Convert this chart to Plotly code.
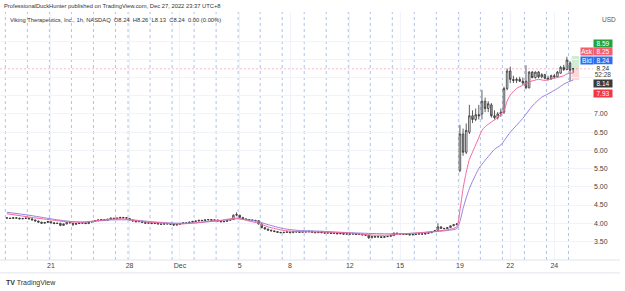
import plotly.graph_objects as go
import pandas as pd

# ---------------- data ----------------
session_days = ["2022-11-17", "2022-11-18", "2022-11-21", "2022-11-22", "2022-11-23", "2022-11-25",
                "2022-11-28", "2022-11-29", "2022-11-30", "2022-12-01", "2022-12-02",
                "2022-12-05", "2022-12-06", "2022-12-07", "2022-12-08", "2022-12-09",
                "2022-12-12", "2022-12-13", "2022-12-14", "2022-12-15", "2022-12-16",
                "2022-12-19", "2022-12-20", "2022-12-21", "2022-12-22", "2022-12-23", "2022-12-27"]
bars_per_session = [7, 7, 7, 7, 7, 4, 7, 7, 7, 7, 7, 7, 7, 7, 7, 7, 7, 7, 7, 7, 7, 7, 7, 7, 7, 7, 2]

opens = [
    4.15, 4.14, 4.13, 4.15, 4.14, 4.12, 4.13,
    4.14, 4.12, 4.09, 4.06, 4.03, 4.00, 4.02,
    4.04, 4.01, 3.99, 4.00, 3.94, 3.98, 4.02,
    4.00, 3.97, 3.99, 4.00, 4.01, 3.99, 4.03,
    4.05, 4.07, 4.09, 4.10, 4.08, 4.11, 4.14,
    4.12, 4.14, 4.16, 4.15,
    4.13, 4.09, 4.06, 4.04, 4.05, 4.02, 4.00,
    4.01, 3.99, 4.00, 3.98, 3.97, 3.99, 3.98,
    3.97, 3.95, 3.97, 3.99, 4.01, 4.00, 4.03,
    4.05, 4.06, 4.08, 4.07, 4.09, 4.10, 4.08,
    4.09, 4.06, 4.04, 4.05, 4.08, 4.10, 4.22,
    4.22, 4.16, 4.12, 4.10, 4.09, 4.08, 4.07,
    3.98, 3.88, 3.84, 3.81, 3.79, 3.77, 3.75,
    3.74, 3.75, 3.76, 3.74, 3.77, 3.76, 3.75,
    3.77, 3.76, 3.78, 3.75, 3.74, 3.76, 3.74,
    3.73, 3.74, 3.72, 3.73, 3.71, 3.72, 3.70,
    3.71, 3.70, 3.71, 3.69, 3.70, 3.68, 3.67,
    3.60, 3.64, 3.62, 3.63, 3.61, 3.63, 3.64,
    3.66, 3.73, 3.71, 3.70, 3.69, 3.70, 3.68,
    3.69, 3.70, 3.71, 3.70, 3.72, 3.74, 3.77,
    3.80, 3.90, 3.86, 3.85, 3.88, 3.93, 3.96,
    5.45, 6.45, 5.95, 6.50, 6.95, 6.85, 6.98,
    7.00, 7.35, 7.15, 7.25, 6.95, 6.90, 7.00,
    7.05, 7.70, 8.18, 7.95, 7.92, 7.95, 7.90,
    7.90, 7.72, 8.15, 8.00, 8.15, 8.02, 8.08,
    7.98, 7.96, 8.05, 8.02, 8.12, 8.28, 8.22,
    8.40, 8.24]
highs = [
    4.16, 4.15, 4.16, 4.16, 4.15, 4.14, 4.15,
    4.15, 4.13, 4.10, 4.07, 4.04, 4.03, 4.06,
    4.05, 4.03, 4.01, 4.01, 3.99, 4.03, 4.03,
    4.01, 4.00, 4.01, 4.02, 4.02, 4.04, 4.06,
    4.08, 4.10, 4.11, 4.11, 4.12, 4.15, 4.15,
    4.15, 4.17, 4.17, 4.16,
    4.14, 4.10, 4.07, 4.06, 4.06, 4.03, 4.02,
    4.02, 4.01, 4.01, 3.99, 4.00, 4.00, 3.99,
    3.98, 3.98, 4.00, 4.02, 4.02, 4.04, 4.06,
    4.07, 4.09, 4.09, 4.10, 4.11, 4.11, 4.10,
    4.10, 4.07, 4.06, 4.09, 4.11, 4.24, 4.30,
    4.23, 4.17, 4.13, 4.11, 4.10, 4.09, 4.08,
    3.99, 3.89, 3.85, 3.82, 3.80, 3.78, 3.76,
    3.76, 3.77, 3.77, 3.78, 3.78, 3.77, 3.78,
    3.78, 3.79, 3.79, 3.76, 3.77, 3.77, 3.75,
    3.75, 3.75, 3.74, 3.74, 3.73, 3.73, 3.72,
    3.72, 3.72, 3.72, 3.71, 3.71, 3.69, 3.68,
    3.65, 3.65, 3.64, 3.64, 3.64, 3.65, 3.67,
    3.74, 3.74, 3.72, 3.71, 3.71, 3.71, 3.70,
    3.71, 3.72, 3.72, 3.73, 3.75, 3.78, 3.81,
    4.00, 3.91, 3.87, 3.89, 3.94, 3.97, 4.00,
    6.70, 6.60, 6.74, 7.25, 7.10, 7.15, 7.25,
    7.66, 7.45, 7.35, 7.30, 7.10, 7.05, 7.15,
    7.75, 8.25, 8.30, 8.05, 8.00, 8.02, 8.00,
    8.34, 8.18, 8.18, 8.17, 8.18, 8.12, 8.10,
    8.05, 8.08, 8.10, 8.18, 8.32, 8.35, 8.57,
    8.45, 8.26]
lows = [
    4.13, 4.12, 4.12, 4.13, 4.11, 4.11, 4.12,
    4.11, 4.08, 4.05, 4.02, 3.99, 3.99, 4.01,
    4.00, 3.98, 3.98, 3.92, 3.93, 3.97, 4.00,
    3.92, 3.96, 3.98, 3.99, 3.98, 3.98, 4.02,
    4.04, 4.06, 4.08, 4.07, 4.07, 4.10, 4.11,
    4.11, 4.13, 4.14, 4.13,
    4.08, 4.05, 4.03, 4.03, 4.01, 3.99, 3.99,
    3.98, 3.98, 3.97, 3.96, 3.96, 3.97, 3.96,
    3.93, 3.94, 3.96, 3.98, 3.99, 3.99, 4.02,
    4.04, 4.05, 4.06, 4.06, 4.08, 4.07, 4.07,
    4.05, 4.03, 4.03, 4.04, 4.07, 4.09, 4.19,
    4.15, 4.11, 4.09, 4.08, 4.07, 4.06, 3.96,
    3.86, 3.83, 3.80, 3.78, 3.76, 3.74, 3.73,
    3.73, 3.74, 3.73, 3.73, 3.75, 3.74, 3.74,
    3.75, 3.75, 3.74, 3.73, 3.73, 3.73, 3.72,
    3.72, 3.71, 3.71, 3.70, 3.70, 3.69, 3.69,
    3.69, 3.69, 3.68, 3.68, 3.67, 3.66, 3.57,
    3.59, 3.61, 3.61, 3.60, 3.60, 3.62, 3.63,
    3.65, 3.70, 3.69, 3.68, 3.68, 3.67, 3.67,
    3.68, 3.69, 3.69, 3.69, 3.71, 3.73, 3.76,
    3.79, 3.85, 3.84, 3.84, 3.87, 3.92, 3.95,
    5.40, 5.85, 5.90, 6.45, 6.75, 6.80, 6.85,
    6.85, 7.05, 7.05, 6.90, 6.85, 6.85, 6.92,
    7.00, 7.65, 7.85, 7.85, 7.85, 7.88, 7.80,
    7.68, 7.70, 7.98, 7.97, 7.98, 7.98, 7.95,
    7.92, 7.94, 7.98, 8.00, 8.10, 8.18, 8.20,
    7.90, 8.13]
closes = [
    4.14, 4.13, 4.15, 4.14, 4.12, 4.13, 4.14,
    4.12, 4.09, 4.06, 4.03, 4.00, 4.02, 4.05,
    4.01, 3.99, 4.00, 3.94, 3.98, 4.02, 4.01,
    3.97, 3.99, 4.00, 4.01, 3.99, 4.03, 4.05,
    4.07, 4.09, 4.10, 4.08, 4.11, 4.14, 4.12,
    4.14, 4.16, 4.15, 4.14,
    4.09, 4.06, 4.04, 4.05, 4.02, 4.00, 4.01,
    3.99, 4.00, 3.98, 3.97, 3.99, 3.98, 3.97,
    3.95, 3.97, 3.99, 4.01, 4.00, 4.03, 4.05,
    4.06, 4.08, 4.07, 4.09, 4.10, 4.08, 4.09,
    4.06, 4.04, 4.05, 4.08, 4.10, 4.22, 4.24,
    4.16, 4.12, 4.10, 4.09, 4.08, 4.07, 3.98,
    3.88, 3.84, 3.81, 3.79, 3.77, 3.75, 3.74,
    3.75, 3.76, 3.74, 3.77, 3.76, 3.75, 3.77,
    3.76, 3.78, 3.75, 3.74, 3.76, 3.74, 3.73,
    3.74, 3.72, 3.73, 3.71, 3.72, 3.70, 3.71,
    3.70, 3.71, 3.69, 3.70, 3.68, 3.67, 3.60,
    3.64, 3.62, 3.63, 3.61, 3.63, 3.64, 3.66,
    3.73, 3.71, 3.70, 3.69, 3.70, 3.68, 3.69,
    3.70, 3.71, 3.70, 3.72, 3.74, 3.77, 3.80,
    3.90, 3.86, 3.85, 3.88, 3.93, 3.96, 3.98,
    6.45, 5.95, 6.55, 6.95, 6.85, 6.98, 6.95,
    7.35, 7.15, 7.28, 6.95, 6.90, 7.00, 7.05,
    7.70, 8.18, 7.95, 7.92, 7.95, 7.90, 7.85,
    7.72, 8.15, 8.00, 8.15, 8.02, 8.08, 7.98,
    7.96, 8.05, 8.02, 8.15, 8.28, 8.22, 8.48,
    8.20, 8.24]

# moving averages (bar index -> value)
ma_fast_bars = [0, 7, 14, 19, 24, 30, 33, 37, 40, 45, 51, 55, 59, 64, 68, 73, 77, 80, 83, 88, 93, 100,
                104, 109, 115, 120, 125, 130, 135, 140, 143, 144, 145, 146, 147, 148, 149, 150, 151,
                152, 154, 156, 158, 159, 160, 162, 164, 166, 169, 171, 174, 177, 178, 179, 180]
ma_fast_vals = [4.26, 4.17, 4.09, 4.04, 4.03, 4.08, 4.11, 4.12, 4.08, 4.03, 4.00, 3.98, 4.00, 4.05,
                4.08, 4.14, 4.06, 4.00, 3.90, 3.80, 3.77, 3.76, 3.75, 3.73, 3.68, 3.67, 3.70, 3.73,
                3.77, 3.82, 3.90, 4.35, 4.95, 5.40, 5.75, 5.95, 6.15, 6.35, 6.55, 6.65, 6.78, 6.90,
                7.10, 7.35, 7.52, 7.70, 7.79, 7.88, 7.95, 7.92, 7.98, 8.05, 8.10, 8.12, 8.12]
ma_slow_bars = [0, 7, 14, 19, 24, 30, 33, 40, 45, 51, 55, 60, 64, 68, 73, 77, 80, 83, 88, 93, 100,
                104, 109, 115, 120, 125, 130, 135, 140, 143, 144, 145, 146, 147, 148, 149, 150, 151,
                153, 155, 157, 160, 164, 167, 170, 172, 175, 177, 179, 180]
ma_slow_vals = [4.30, 4.22, 4.12, 4.06, 4.03, 4.07, 4.09, 4.09, 4.05, 4.01, 4.00, 4.01, 4.04, 4.07,
                4.12, 4.09, 4.04, 3.96, 3.85, 3.80, 3.78, 3.76, 3.74, 3.72, 3.71, 3.71, 3.73, 3.76,
                3.80, 3.85, 4.05, 4.40, 4.70, 4.95, 5.15, 5.33, 5.50, 5.62, 5.83, 6.03, 6.15, 6.50,
                6.88, 7.22, 7.46, 7.55, 7.70, 7.82, 7.90, 7.93]

tick_dates = ["2022-11-21", "2022-11-28", "2022-12-01", "2022-12-05", "2022-12-08",
              "2022-12-12", "2022-12-15", "2022-12-19", "2022-12-22", "2022-12-24"]
tick_text = ["21", "28", "Dec", "5", "8", "12", "15", "19", "22", "24"]
price_ticks = [3.5, 4.0, 4.5, 5.0, 5.5, 6.0, 6.5, 7.0, 7.5, 8.0, 8.5, 9.0]
price_labels = ["3.50", "4.00", "4.50", "5.00", "5.50", "6.00", "6.50", "7.00", "", "", "", ""]

last_price = 8.24
pos_entry, pos_target, pos_stop = 8.24, 8.59, 7.93
pos_bars = (179.5, 181.9)

# ---------------- derived ----------------
times = []
session_starts = []
for d, n in zip(session_days, bars_per_session):
    session_starts.append(len(times))
    for k in range(n):
        # 9:30 ET bars shown in UTC+8 (+13h)
        times.append(pd.Timestamp(d) + pd.Timedelta(hours=9.5 + k + 13))
idx = list(range(len(times)))
tickvals = [next(i for i, t in enumerate(times) if t.date() == pd.Timestamp(td).date()) for td in tick_dates]

fig = go.Figure()

# session breaks
for s in session_starts:
    fig.add_shape(type="line", xref="x", yref="y domain", x0=s - 0.5, x1=s - 0.5, y0=0, y1=1,
                  line=dict(color="#a9c3f3", width=1, dash="3px,3px"), layer="below")

# long position tool
fig.add_shape(type="rect", xref="x", yref="y", x0=pos_bars[0], x1=pos_bars[1], y0=pos_entry, y1=pos_target,
              fillcolor="rgba(76,175,80,0.25)", line=dict(width=0), layer="below")
fig.add_shape(type="rect", xref="x", yref="y", x0=pos_bars[0], x1=pos_bars[1], y0=pos_stop, y1=pos_entry,
              fillcolor="rgba(242,54,69,0.2)", line=dict(width=0), layer="below")

# last price line
fig.add_shape(type="line", xref="paper", yref="y", x0=0, x1=1, y0=last_price, y1=last_price,
              line=dict(color="#f7bccb", width=1, dash="2px,2px"), layer="below")

fig.add_trace(go.Scatter(x=ma_slow_bars, y=ma_slow_vals, mode="lines",
                         line=dict(color="#9b7fe0", width=1, shape="spline", smoothing=0.6),
                         hoverinfo="skip"))
fig.add_trace(go.Scatter(x=ma_fast_bars, y=ma_fast_vals, mode="lines",
                         line=dict(color="#f5679a", width=1, shape="spline", smoothing=0.6),
                         hoverinfo="skip"))
fig.add_trace(go.Candlestick(x=idx, open=opens, high=highs, low=lows, close=closes,
                             increasing=dict(line=dict(color="#333333", width=0.8), fillcolor="#ffffff"),
                             decreasing=dict(line=dict(color="#333333", width=0.8), fillcolor="#a8a8a8"),
                             whiskerwidth=0, hoverinfo="skip"))

# bottom band border
fig.add_shape(type="line", xref="paper", yref="paper", x0=0, x1=1.045, y0=-0.052, y1=-0.052,
              line=dict(color="#e0e3eb", width=1))
fig.add_shape(type="line", xref="paper", yref="paper", x0=0, x1=1.045, y0=0, y1=0,
              line=dict(color="#e0e3eb", width=1))

txt = "#333333"
ann = []
ann.append(dict(text="ProfessionalDuckHunter published on TradingView.com, Dec 27, 2022 23:37 UTC+8",
                xref="paper", yref="paper", x=0.004, y=1.024, xanchor="left", yanchor="middle",
                showarrow=False, font=dict(size=5.8, color=txt)))
ann.append(dict(text="Viking Therapeutics, Inc., 1h, NASDAQ  O8.24  H8.26  L8.13  C8.24  0.00 (0.00%)",
                xref="paper", yref="paper", x=0.013, y=0.968, xanchor="left", yanchor="middle",
                showarrow=False, font=dict(size=5.8, color=txt)))
ann.append(dict(text="USD", xref="paper", yref="paper", x=1.012, y=0.968, xanchor="left", yanchor="middle",
                showarrow=False, font=dict(size=6.5, color="#555")))

def box(text, py, bg, xc=1.0177, w=18, fc="#ffffff"):
    return dict(text=text, xref="paper", yref="paper", x=xc, y=(260 - py) / 248, xanchor="center",
                yanchor="middle", showarrow=False, bgcolor=bg, width=w, height=7, borderpad=0,
                font=dict(size=6.5, color=fc))

ann.append(box("8.59", 43, "#22a23f"))
ann.append(box("Ask", 52, "#f0606f", xc=0.99, w=12))
ann.append(box("8.25", 52, "#f0606f"))
ann.append(box("Bid", 60.5, "#2f6df0", xc=0.99, w=12))
ann.append(box("8.24", 60.5, "#2f6df0"))
ann.append(box("8.24", 68, "#ffffff", fc="#222"))
ann.append(box("52:28", 74, "#ffffff", fc="#444"))
ann.append(box("8.14", 84, "#3a3a3a"))
ann.append(box("7.93", 93, "#f23645"))
ann.append(dict(text="<b>TV</b> TradingView", xref="paper", yref="paper", x=0.006, y=-0.093,
                xanchor="left", yanchor="middle", showarrow=False, font=dict(size=7, color="#333")))

fig.update_layout(
    width=625, height=291, margin=dict(l=0, r=32, t=12, b=31),
    paper_bgcolor="white", plot_bgcolor="white", showlegend=False,
    font=dict(family="Liberation Sans, Arial, sans-serif", size=7, color=txt),
    annotations=ann,
    xaxis=dict(range=[-2.2, 186.3], tickvals=tickvals, ticktext=tick_text, showgrid=True,
               gridcolor="#f0f3fa", zeroline=False, ticks="", rangeslider=dict(visible=False),
               tickfont=dict(size=7, color="#444"), showline=False, fixedrange=True),
    yaxis=dict(range=[2.99, 9.80], side="right", tickvals=price_ticks,
               ticktext=price_labels, showgrid=True, gridcolor="#f0f3fa",
               zeroline=False, ticks="", tickfont=dict(size=7, color="#444"), fixedrange=True),
)

fig.write_html("out.html")
